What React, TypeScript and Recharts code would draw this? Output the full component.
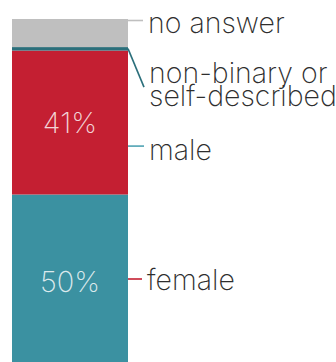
import React from 'react';
import { BarChart, Bar, XAxis, YAxis } from 'recharts';

// ---- data ----
const categories = ['respondents'];
const femaleValues = [50];
const maleValues = [41];
const nonBinaryValues = [1];
const noAnswerValues = [8];
const femaleLabel = ['female'];
const maleLabel = ['male'];
const nonBinaryLabel = ['non-binary or', 'self-described'];
const noAnswerLabel = ['no answer'];

const data = categories.map((c, i) => ({
  name: c,
  female: femaleValues[i],
  male: maleValues[i],
  nonBinary: nonBinaryValues[i],
  noAnswer: noAnswerValues[i],
}));

const FONT = 'Inter, Roboto, "Noto Sans", sans-serif';

type Cfg = {
  key: string;
  lines: string[];
  lineColor: string;
  anchor: (h: number) => number;
  lineDx: number;
  lineDy: number;
  textDx: number;
  textDy: number;
  showPct: boolean;
};

const makeShape = (cfg: Cfg) => (props: any) => {
  const { x, y, width, height, fill, payload } = props;
  const right = x + width;
  const ay = y + cfg.anchor(height);
  const v = payload ? payload[cfg.key] : '';
  return (
    <g>
      <rect x={x} y={y} width={width} height={height} fill={fill} />
      {cfg.showPct && (
        <text
          x={x + width / 2}
          y={y + height / 2 + 10}
          textAnchor="middle"
          fontFamily={FONT}
          fontWeight={200}
          fontSize={29}
          fill="#ffffff"
          fillOpacity={0.82}
        >
          {v}%
        </text>
      )}
      <line
        x1={right}
        y1={ay}
        x2={right + cfg.lineDx}
        y2={ay + cfg.lineDy}
        stroke={cfg.lineColor}
        strokeWidth={1.6}
      />
      <text
        x={right + cfg.textDx}
        y={ay + cfg.textDy}
        fontFamily={FONT}
        fontWeight={250}
        fontSize={28.5}
        fill="#2e2e2e"
      >
        {cfg.lines.map((l, i) => (
          <tspan key={i} x={right + cfg.textDx} dy={i === 0 ? 0 : 23}>
            {l}
          </tspan>
        ))}
      </text>
    </g>
  );
};

const femaleShape = makeShape({
  key: 'female', lines: femaleLabel, lineColor: '#c41f32',
  anchor: () => 84.5, lineDx: 14, lineDy: 0, textDx: 19, textDy: 11, showPct: true,
});
const maleShape = makeShape({
  key: 'male', lines: maleLabel, lineColor: '#4fa3b3',
  anchor: () => 95.5, lineDx: 16, lineDy: 0, textDx: 21, textDy: 14, showPct: true,
});
const nonBinaryShape = makeShape({
  key: 'nonBinary', lines: nonBinaryLabel, lineColor: '#2b6f7b',
  anchor: () => 1.5, lineDx: 16, lineDy: 38.5, textDx: 21, textDy: 34.5, showPct: false,
});
const noAnswerShape = makeShape({
  key: 'noAnswer', lines: noAnswerLabel, lineColor: '#bfbfbf',
  anchor: () => 1.5, lineDx: 15, lineDy: 0, textDx: 20, textDy: 12.5, showPct: false,
});

export default function App() {
  return (
    <div
      style={{
        position: 'fixed',
        top: 0,
        left: 0,
        width: 336,
        height: 362,
        overflow: 'hidden',
        background: '#ffffff',
      }}
    >
      <BarChart
        width={336}
        height={370}
        data={data}
        margin={{ top: 19, right: 201, bottom: 0, left: 5 }}
        barCategoryGap="0%"
        barGap={0}
      >
        <XAxis dataKey="name" hide />
        <YAxis type="number" domain={[0, 100]} hide />
        <Bar dataKey="female" stackId="a" fill="#3b91a1" barSize={116} isAnimationActive={false} shape={femaleShape} />
        <Bar dataKey="male" stackId="a" fill="#c41f32" barSize={116} isAnimationActive={false} shape={maleShape} />
        <Bar dataKey="nonBinary" stackId="a" fill="#2b6f7b" barSize={116} isAnimationActive={false} shape={nonBinaryShape} />
        <Bar dataKey="noAnswer" stackId="a" fill="#bfbfbf" barSize={116} isAnimationActive={false} shape={noAnswerShape} />
      </BarChart>
    </div>
  );
}
